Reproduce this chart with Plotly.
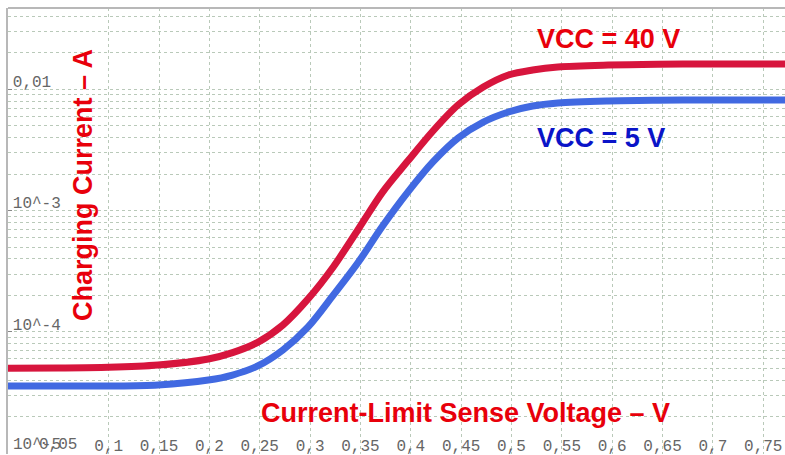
import plotly.graph_objects as go

# current-limit sense voltage (V)
x_volts = [0.0, 0.05, 0.1, 0.149, 0.199, 0.223, 0.248, 0.273, 0.298, 0.323, 0.348,
           0.372, 0.397, 0.422, 0.447, 0.472, 0.497, 0.521, 0.546, 0.596, 0.645,
           0.695, 0.745, 0.772]

# charging current (A)
i_vcc40 = [5.01e-5, 5.03e-5, 5.10e-5, 5.33e-5, 5.98e-5, 6.75e-5, 8.20e-5, 1.14e-4,
           1.87e-4, 3.43e-4, 7.05e-4, 1.42e-3, 2.56e-3, 4.53e-3, 7.43e-3, 1.044e-2,
           1.312e-2, 1.442e-2, 1.528e-2, 1.585e-2, 1.61e-2, 1.617e-2, 1.617e-2, 1.617e-2]
i_vcc5 = [3.58e-5, 3.58e-5, 3.58e-5, 3.65e-5, 4.01e-5, 4.41e-5, 5.24e-5, 7.10e-5,
          1.10e-4, 2.01e-4, 3.77e-4, 7.46e-4, 1.42e-3, 2.52e-3, 3.97e-3, 5.37e-3,
          6.50e-3, 7.28e-3, 7.71e-3, 8.01e-3, 8.12e-3, 8.16e-3, 8.16e-3, 8.16e-3]

x_ticks = [0.05, 0.1, 0.15, 0.2, 0.25, 0.3, 0.35, 0.4, 0.45, 0.5, 0.55, 0.6, 0.65, 0.7, 0.75]
x_ticktext = ["0,05", "0,1", "0,15", "0,2", "0,25", "0,3", "0,35", "0,4", "0,45",
              "0,5", "0,55", "0,6", "0,65", "0,7", "0,75"]
y_ticks = [1e-5, 1e-4, 1e-3, 1e-2]
y_ticktext = ["10^-5", "10^-4", "10^-3", "0,01"]
y_minor = [m * d for d in [1e-5, 1e-4, 1e-3, 1e-2] for m in range(2, 10)]

RED_LINE = "#d7153d"
BLUE_LINE = "#4169e1"
GRID = "#b9c9b9"
FRAME = "#b8b8b8"
TICKFONT = dict(family="Liberation Mono", size=16, color="#666666")

fig = go.Figure()
fig.add_trace(go.Scatter(x=x_volts, y=i_vcc40, mode="lines", line_shape="spline",
                         line=dict(color=RED_LINE, width=7, smoothing=0.9), name="VCC = 40 V"))
fig.add_trace(go.Scatter(x=x_volts, y=i_vcc5, mode="lines", line_shape="spline",
                         line=dict(color=BLUE_LINE, width=7, smoothing=0.9), name="VCC = 5 V"))

red_font = dict(family="Liberation Sans", size=27, color="#e8000b")


def label(text, x, y, font, angle=0):
    fig.add_annotation(text=f"<b>{text}</b>", textangle=angle,
                       xref="paper", yref="paper", x=x, y=y,
                       xanchor="center", yanchor="middle",
                       showarrow=False, font=font)


label("Charging Current – A", 0.0965, 0.603, red_font, angle=-90)
label("Current-Limit Sense Voltage – V", 0.5894, 0.092, red_font)
label("VCC = 40 V", 0.7729, 0.930, red_font)
label("VCC = 5 V", 0.7638, 0.709,
      dict(family="Liberation Sans", size=27, color="#0a14c8"))

# plotly hides the inside tick labels that collide in the corner; put those two back
fig.add_annotation(text=x_ticktext[0], xref="x", x=x_ticks[0], yref="paper", y=0.0202,
                   xanchor="center", yanchor="middle", showarrow=False, font=TICKFONT)
fig.add_annotation(text=y_ticktext[0], xref="paper", x=0.004, yref="paper", y=0.0202,
                   xanchor="left", yanchor="middle", showarrow=False, font=TICKFONT)

# frame: only top and left edges show in the window
fig.add_shape(type="line", xref="paper", yref="paper", x0=0, x1=1, y0=1, y1=1,
              line=dict(color=FRAME, width=2))

fig.update_layout(
    width=785, height=455,
    margin=dict(l=8, r=0, t=8, b=1),
    paper_bgcolor="white", plot_bgcolor="white",
    showlegend=False,
    xaxis=dict(
        range=[0, 0.7716],
        tickvals=x_ticks, ticktext=x_ticktext,
        ticklabelposition="inside", tickfont=TICKFONT, ticklabelstandoff=-3,
        showgrid=True, gridcolor=GRID, griddash="dot", gridwidth=1,
        zeroline=False, showline=False,
    ),
    yaxis=dict(
        type="log", range=[-5.0066, -1.330],
        tickvals=y_ticks, ticktext=y_ticktext,
        ticklabelposition="inside top", tickfont=TICKFONT,
        ticklabelstandoff=4, ticklabelshift=4,
        ticks="inside", ticklen=4, tickcolor="#888888",
        showgrid=True, gridcolor=GRID, griddash="dot", gridwidth=1,
        minor=dict(tickvals=y_minor, showgrid=True, gridcolor=GRID, griddash="dot",
                   gridwidth=1, ticks=""),
        zeroline=False, showline=True, linecolor=FRAME, linewidth=2,
    ),
)

fig.write_html("out.html", config={"displayModeBar": False},
               post_script="document.body.style.margin='0';"
                           "document.body.style.overflow='hidden';")
